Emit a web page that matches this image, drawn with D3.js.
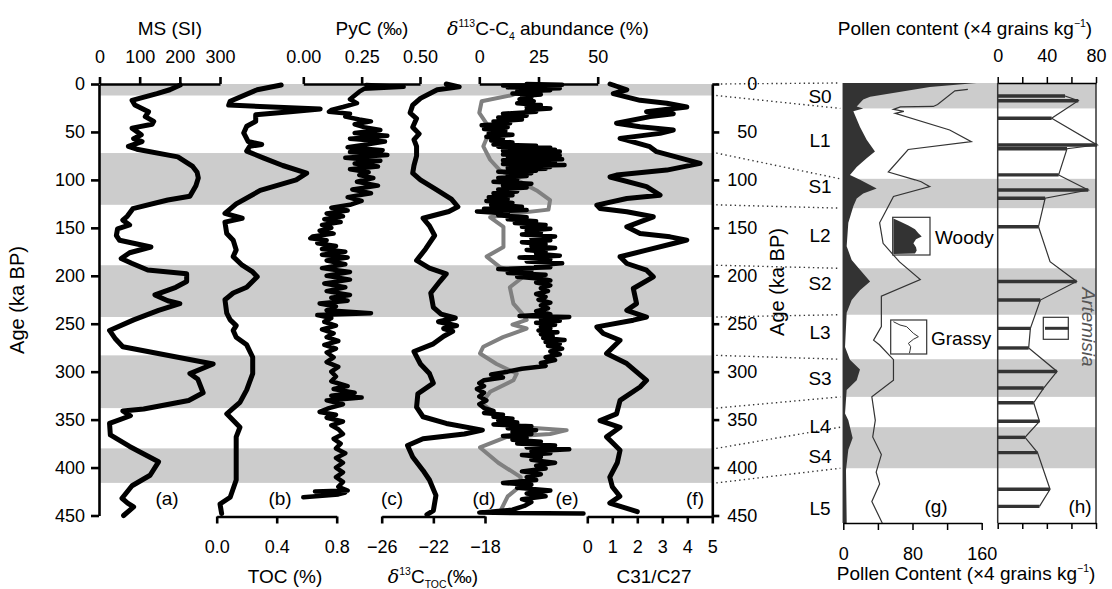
<!DOCTYPE html>
<html>
<head>
<meta charset="utf-8">
<script src="https://cdn.jsdelivr.net/npm/d3@7"></script>
<style>
  body { margin: 0; background: #fff; }
  svg { display: block; font-family: "Liberation Sans", Arial, sans-serif; }
</style>
</head>
<body>
<svg id="chart" width="1112" height="589"></svg>
<script>
// ---------- Data (age in ka BP, value) ----------
const msData = [[1,201],[6,175],[10,143],[17,81],[22,88],[29,122],[34,114],[39,135],[42,131],[46,81],[53,104],[57,85],[60,106],[65,72],[68,93],[76,195],[86,232],[92,243],[98,246],[106,240],[117,225],[121,170],[130,83],[138,69],[142,58],[147,75],[151,45],[158,42],[163,50],[170,128],[176,75],[182,54],[187,80],[194,120],[198,217],[206,217],[212,190],[220,138],[226,170],[229,200],[236,147],[246,85],[257,25],[266,40],[274,58],[292,283],[302,225],[308,245],[322,258],[330,222],[339,110],[341,58],[346,77],[354,25],[366,27],[378,75],[384,102],[394,147],[408,126],[419,81],[432,56],[437,70],[441,85],[450,60]];

const tocData = [[1,0.43],[6,0.27],[18,0.09],[22,0.08],[26,0.69],[29,0.49],[32,0.26],[39,0.26],[44,0.20],[51,0.18],[60,0.21],[63,0.30],[65,0.22],[70,0.20],[77,0.31],[85,0.44],[93,0.60],[100,0.53],[111,0.29],[125,0.13],[135,0.055],[140,0.17],[144,0.055],[156,0.067],[163,0.11],[173,0.13],[180,0.11],[189,0.17],[196,0.24],[201,0.27],[212,0.20],[218,0.11],[225,0.055],[239,0.067],[246,0.09],[252,0.13],[257,0.11],[264,0.13],[272,0.20],[285,0.24],[302,0.24],[319,0.20],[332,0.155],[344,0.067],[358,0.155],[368,0.13],[413,0.13],[431,0.09],[438,0.022],[448,0.033]];

const pycData = [[1,0.27],[3,0.43],[5,0.26],[8,0.24],[12,0.22],[16,0.20],[20,0.23],[24,0.17],[27,0.12],[29,0.11],[31,0.2],[34,0.18],[37,0.24],[39,0.29],[42,0.22],[45,0.26],[48,0.33],[51,0.22],[54,0.36],[57,0.20],[60,0.35],[63,0.27],[66,0.19],[69,0.34],[71,0.20],[74,0.36],[77,0.18],[80,0.33],[83,0.22],[86,0.32],[89,0.2],[92,0.28],[95,0.24],[98,0.30],[102,0.23],[106,0.32],[110,0.21],[114,0.29],[118,0.19],[122,0.25],[126,0.2],[129,0.12],[132,0.19],[135,0.1],[138,0.17],[141,0.09],[144,0.16],[147,0.08],[150,0.12],[153,0.07],[156,0.13],[159,0.04],[161,0.03],[163,0.1],[166,0.06],[169,0.14],[172,0.08],[175,0.18],[178,0.08],[181,0.19],[184,0.1],[188,0.18],[192,0.08],[196,0.2],[200,0.1],[204,0.2],[208,0.09],[212,0.18],[216,0.1],[220,0.2],[223,0.12],[226,0.19],[229,0.07],[232,0.14],[236,0.1],[239,0.29],[241,0.06],[244,0.12],[248,0.09],[252,0.14],[256,0.08],[260,0.13],[264,0.1],[268,0.15],[272,0.09],[276,0.14],[280,0.10],[285,0.13],[290,0.1],[295,0.15],[300,0.12],[305,0.14],[310,0.12],[315,0.19],[318,0.13],[322,0.22],[325,0.12],[327,0.25],[330,0.1],[334,0.17],[338,0.11],[342,0.07],[345,0.14],[348,0.1],[352,0.17],[356,0.12],[360,0.15],[365,0.17],[370,0.13],[375,0.16],[380,0.14],[385,0.18],[390,0.14],[395,0.17],[400,0.14],[405,0.17],[410,0.14],[415,0.17],[420,0.15],[424,0.19],[425,0.05],[426,0.18],[428,0.15],[431,0.0]];

const d13TocData = [[0,-21.0],[3,-20.0],[6,-21.7],[15,-23.0],[22,-23.6],[30,-23.8],[36,-23.3],[45,-23.6],[52,-23.1],[58,-23.5],[65,-23.3],[75,-23.3],[85,-23.5],[93,-23.6],[100,-23.0],[110,-21.8],[120,-20.6],[128,-20.1],[133,-20.8],[140,-22.8],[148,-22.3],[158,-21.9],[172,-22.6],[184,-23.3],[192,-22.3],[198,-21.0],[206,-21.5],[218,-22.2],[233,-22.0],[240,-21.4],[244,-20.3],[248,-21.6],[252,-20.2],[255,-21.2],[258,-20.5],[263,-21.2],[271,-22.0],[279,-23.5],[292,-23.0],[302,-22.3],[312,-22.0],[323,-23.2],[337,-23.3],[347,-22.8],[354,-21.0],[361,-18.2],[365,-19.6],[370,-22.8],[377,-24.0],[389,-23.6],[403,-22.8],[413,-22.3],[429,-21.8],[445,-22.0],[449,-22.5]];

const c4GreyData = [[0,25],[4,21],[11.5,14],[18,1],[30,0],[41,3],[48,4.6],[65,1.7],[79,4.6],[90,8.7],[100,15.8],[111,24.2],[121,29.9],[131,29.2],[136,11.6],[139,4.6],[149,10.2],[170,10.2],[180,3.1],[191,8.7],[196,15.8],[201,18.6],[212,12.9],[229,14.4],[239,17.9],[246,20],[251,14],[255,20],[264,10],[274,1.7],[281,0.3],[292,7.3],[302,15.8],[309,14.4],[321,4.6],[333,1.0],[347,8.7],[358,18.6],[361,36.9],[365,29.9],[368,11.6],[379,0.3],[395,8],[410,17.5],[420,17],[430,12],[445,9]];

const c4BlackData = [[0,20],[0.8,35],[1.6,10],[2.5,30],[3.5,12],[4.5,34],[5.5,18],[6.5,30],[7.5,16],[8.5,24],[10,14],[11,26],[12.5,18],[14,22],[16,17],[18,23],[20,16],[22,26],[24,20],[25.5,30],[27,20],[29,24],[31,10],[33,20],[35,8],[37,18],[39,6],[41,13],[43,1],[45,12],[47,2],[49,11],[51,4],[53,14],[55,3],[57,10],[59,5],[61,14],[63,6],[64.5,24],[65.5,8],[66.5,30],[67.5,12],[68.5,32],[69.5,10],[70.5,34],[71.5,14],[72.5,28],[73.5,10],[74.5,34],[75.5,12],[76.5,30],[77.5,16],[78.5,35],[79.5,10],[80.5,30],[81.5,14],[82.5,32],[83.5,10],[84.5,36],[85.5,16],[86.5,30],[87.5,12],[88.5,28],[89.5,14],[90.5,24],[91.5,8],[93,22],[94.5,12],[96,20],[98,8],[100,16],[102,6],[104,22],[106,10],[108,20],[110,8],[112,16],[114,6],[116,14],[118,4],[120,12],[122,3],[124,14],[126,5],[128,18],[130,2],[131.5,20],[133,-1],[135,12],[137,8],[139,20],[141,12],[143,24],[145,15],[147,28],[149,18],[151,30],[153,20],[155,26],[157,18],[159,32],[161,22],[163,30],[165,18],[167,28],[169,22],[171,32],[173,20],[175,28],[177,24],[179,34],[181,17],[183,30],[185,20],[187,35],[189,24],[191,30],[193,8],[195,22],[197,12],[199,28],[201,16],[203,26],[205,30],[207,24],[210,30],[213,26],[216,29],[219,24],[222,28],[225,25],[228,30],[231,26],[234,29],[237,24],[240,30],[242,17],[243,38],[245,26],[247,34],[249,24],[251,32],[253,26],[255,30],[257,25],[259,33],[261,26],[263,31],[265,27],[267,36],[269,28],[271,34],[273,29],[276,35],[279,30],[282,34],[285,28],[288,32],[291,26],[294,28],[297,18],[300,12],[303,5],[306,10],[309,2],[312,0],[315,2],[318,-1],[322,2],[326,0],[330,3],[334,0],[338,2],[341,6],[343,2],[345,10],[347,6],[349,14],[351,8],[353,16],[355,6],[357,22],[359,12],[361,24],[363,14],[365,22],[367,10],[369,20],[371,14],[373,26],[375,16],[377,32],[379,20],[381,38],[383,22],[385,30],[387,18],[389,26],[392,22],[395,32],[398,24],[401,28],[404,18],[407,26],[410,20],[413,24],[416,10],[418,22],[421,16],[424,30],[427,20],[430,28],[433,18],[436,22],[440,19],[444,14],[447,0],[448,44]];

const c31Data = [[0,0.91],[6,1.58],[10,1.04],[17,2.11],[20,3.18],[24,3.98],[29,2.37],[31,3.44],[34,2.51],[41,1.17],[44.5,2.11],[48,3.44],[51.5,2.91],[56.7,1.31],[58.5,1.58],[65.4,2.5],[70.6,2.77],[82.8,4.51],[89.8,3.18],[95,1.17],[97,0.91],[107,2.37],[116,2.91],[119.4,1.58],[126.3,0.38],[129.8,0.51],[133.2,1.58],[138.5,2.64],[149,1.58],[156,2.11],[159.4,3.31],[162.8,3.98],[166.3,3.44],[173.3,2.37],[180.2,1.31],[187.2,1.58],[194.2,2.37],[201.1,2.64],[213.3,1.84],[229,1.97],[236,1.58],[243,2.37],[246.3,1.84],[253.3,0.38],[260.2,0.64],[267.2,1.31],[281.1,0.77],[291.6,1.58],[309,2.37],[316,2.11],[330,1.31],[344,1.17],[351,0.51],[358,1.31],[368,0.77],[375,1.04],[382,1.31],[395,1.2],[410,0.9],[420,1.0],[430,1.3],[437,0.9],[446,2.0]];

// pollen panels use their own stratigraphic position (0-450)
const woodyData = [[0,154],[4,100],[14,31],[17,23],[24,15.5],[26,23],[29,11.6],[45,19.3],[58,27],[70,36.6],[77,27],[86,15.5],[94,7.7],[99,19.3],[108,38.6],[113,23],[118,15.5],[126,11.6],[143,5.8],[167,3.9],[181,9.7],[191,19.3],[203,31],[212,19.3],[222,9.7],[235,3.9],[270,2],[283,7.7],[293,19.3],[304,15.5],[314,3.9],[338,2],[345,5.8],[363,10.8],[375,5.8],[396,3.1],[447,3.9],[450,3.9]];
const grassyData = [[6.5,144],[8,129],[22,109],[24,104],[24.5,66],[27,58],[29,70],[31,60],[48,123],[60,148],[68,75],[91,52],[99,83],[101,90],[104,96],[106,100],[116,58],[133,48],[143,42],[164,46],[183,65],[201,89],[218,44],[249,44],[263,35],[268,42],[283,58],[304,58],[321,33],[345,37],[362,34],[380,44],[398,38],[410,42],[428,33],[450,45]];
// [position, value, drawn as bar (1) or outline vertex only (0)]
const artemisiaData = [[13.3,54.8,1],[18.1,65.6,1],[36.1,43.9,1],[63.4,80.9,1],[67.2,56.4,1],[94,49.6,1],[109.4,73.7,1],[117.9,38.6,1],[147,33.2,1],[182.7,42.6,0],[203,64.2,1],[222,34.7,1],[251,26.6,1],[271,25.2,1],[295,48.3,1],[312,37.4,1],[327,29.3,1],[346,34,1],[362.4,22.2,1],[378,32.4,1],[415.5,42.6,1],[433,34,1]];

const ageBands = [[0,12],[72,126],[189,243],[283,338],[380,416]];
const posBands = [[0,26],[98,128],[189.5,237],[282.5,321],[352,394]];
const unitNames = ["S0","L1","S1","L2","S2","L3","S3","L4","S4","L5"];
const unitPos = [13,58,105,156,205,255,302,351,382,435];

const ageTicks = [0,50,100,150,200,250,300,350,400,450];
const msTicks = [0,100,200,300];
const tocTicks = [0,0.4,0.8];
const pycTicks = [0,0.25,0.5];
const d13Ticks = [-26,-22,-18];
const c4Ticks = [0,25,50];
const c31Ticks = [0,1,2,3,4,5];
const pollenTicks = [0,40,80,120,160];
const artTicks = [0,20,40,60,80];

// ---------- Scales ----------
const svg = d3.select("#chart");
const yAge = d3.scaleLinear().domain([0,450]).range([84,515.5]);
const yPos = d3.scaleLinear().domain([0,450]).range([83,523]);
const xMS = d3.scaleLinear().domain([0,300]).range([99.5,220]);
const xTOC = d3.scaleLinear().domain([0,0.8]).range([216.7,336.7]);
const xPyC = d3.scaleLinear().domain([0,0.5]).range([303.3,420]);
const xD13 = d3.scaleLinear().domain([-26,-18]).range([381.7,485]);
const xC4 = d3.scaleLinear().domain([0,50]).range([479.3,597.7]);
const xC31 = d3.scaleLinear().domain([0,5]).range([587.3,712.3]);
const xPollen = d3.scaleLinear().domain([0,160]).range([843.3,981.7]);
const xArt = d3.scaleLinear().domain([0,80]).range([997.7,1096]);

const leftX0 = 99, leftX1 = 712.3;
const gX0 = 843.3, hX1 = 1096;

// ---------- Bands ----------
svg.append("g").selectAll("rect").data(ageBands).join("rect")
  .attr("x", leftX0).attr("width", leftX1 - leftX0)
  .attr("y", d => yAge(d[0])).attr("height", d => yAge(d[1]) - yAge(d[0]))
  .attr("fill", "#cccccc");
svg.append("g").selectAll("rect").data(posBands).join("rect")
  .attr("x", gX0).attr("width", hX1 - gX0)
  .attr("y", d => yPos(d[0])).attr("height", d => yPos(d[1]) - yPos(d[0]))
  .attr("fill", "#cccccc");

// ---------- Dotted correlation lines ----------
const leftBounds = ageBands.flat(), rightBounds = posBands.flat();
svg.append("g").selectAll("line").data(leftBounds).join("line")
  .attr("x1", leftX1 + 4).attr("y1", d => yAge(d))
  .attr("x2", gX0 - 3).attr("y2", (d, i) => yPos(rightBounds[i]))
  .attr("stroke", "#333").attr("stroke-width", 1.4)
  .attr("stroke-dasharray", "1.4 3.2");

// ---------- Curves ----------
function curve(data, xs, color, width) {
  svg.append("path").datum(data)
    .attr("d", d3.line().x(d => xs(d[1])).y(d => yAge(d[0])))
    .attr("fill", "none").attr("stroke", color)
    .attr("stroke-width", width)
    .attr("stroke-linejoin", "round").attr("stroke-linecap", "round");
}
curve(msData, xMS, "#000", 5);
curve(tocData, xTOC, "#000", 5);
curve(pycData, xPyC, "#000", 4.5);
curve(d13TocData, xD13, "#000", 5);
curve(c4GreyData, xC4, "#808080", 4);
curve(c4BlackData, xC4, "#000", 4.5);
curve(c31Data, xC31, "#000", 5);

// ---------- Pollen (g) ----------
svg.append("path").datum(woodyData)
  .attr("d", d3.area().y(d => yPos(d[0])).x0(xPollen(0)).x1(d => xPollen(d[1])))
  .attr("fill", "#333");
svg.append("path").datum(grassyData)
  .attr("d", d3.line().x(d => xPollen(d[1])).y(d => yPos(d[0])))
  .attr("fill", "none").attr("stroke", "#333").attr("stroke-width", 1.2);

// ---------- Artemisia (h) ----------
svg.append("g").selectAll("line").data(artemisiaData.filter(d => d[2])).join("line")
  .attr("x1", xArt(0)).attr("x2", d => xArt(d[1]))
  .attr("y1", d => yPos(d[0])).attr("y2", d => yPos(d[0]))
  .attr("stroke", "#333").attr("stroke-width", 3.4);
svg.append("path").datum(artemisiaData)
  .attr("d", d3.line().x(d => xArt(d[1])).y(d => yPos(d[0])))
  .attr("fill", "none").attr("stroke", "#333").attr("stroke-width", 1.2);

// ---------- Axes ----------
function styleAxis(g, w, fs) {
  g.selectAll("path,line").attr("stroke", "#000").attr("stroke-width", w);
  g.selectAll("text").attr("font-size", fs).attr("fill", "#000")
    .attr("font-family", "Liberation Sans, Arial, sans-serif");
}
const AX = 2.6;
svg.append("g").attr("transform", `translate(${leftX0},0)`)
  .call(d3.axisLeft(yAge).tickValues(ageTicks).tickSize(8).tickSizeOuter(0).tickPadding(6))
  .call(g => styleAxis(g, AX, 18));
svg.append("g").attr("transform", `translate(${leftX1},0)`)
  .call(d3.axisRight(yAge).tickValues(ageTicks).tickSize(7).tickSizeOuter(0))
  .call(g => styleAxis(g, AX, 18))
  .call(g => g.selectAll("text").attr("text-anchor", "end").attr("x", 45));

function topAxis(xs, ticks, fmt) {
  svg.append("g").attr("transform", "translate(0,84)")
    .call(d3.axisTop(xs).tickValues(ticks).tickFormat(fmt).tickSize(7).tickSizeOuter(0).tickPadding(14))
    .call(g => styleAxis(g, AX, 18));
}
function bottomAxis(xs, ticks, fmt) {
  svg.append("g").attr("transform", "translate(0,516.5)")
    .call(d3.axisBottom(xs).tickValues(ticks).tickFormat(fmt).tickSize(7).tickSizeOuter(0).tickPadding(17))
    .call(g => styleAxis(g, AX, 18));
}
topAxis(xMS, msTicks, d3.format("d"));
topAxis(xPyC, pycTicks, d3.format(".2f"));
topAxis(xC4, c4Ticks, d3.format("d"));
bottomAxis(xTOC, tocTicks, d3.format(".1f"));
bottomAxis(xD13, d13Ticks, d3.format("d"));
bottomAxis(xC31, c31Ticks, d3.format("d"));

// pollen panel frames and axes
const PW = 1.5;
svg.append("line").attr("x1", gX0).attr("x2", gX0).attr("y1", yPos(0)).attr("y2", yPos(450))
  .attr("stroke", "#333").attr("stroke-width", PW);
svg.append("g").attr("transform", `translate(0,${yPos(450)})`)
  .call(d3.axisBottom(xPollen).tickValues(pollenTicks).tickFormat(d => d % 80 === 0 ? d : "")
    .tickSize(7).tickSizeOuter(0).tickPadding(17))
  .call(g => styleAxis(g, PW, 18));
[xArt(0), xArt(80)].forEach(x => svg.append("line").attr("x1", x).attr("x2", x)
  .attr("y1", yPos(0)).attr("y2", yPos(450)).attr("stroke", "#333").attr("stroke-width", PW));
svg.append("g").attr("transform", `translate(0,${yPos(0)})`)
  .call(d3.axisTop(xArt).tickValues(artTicks).tickFormat(d => d % 40 === 0 ? d : "")
    .tickSize(6).tickSizeOuter(0).tickPadding(15))
  .call(g => styleAxis(g, PW, 18));
svg.append("g").attr("transform", `translate(0,${yPos(450)})`)
  .call(d3.axisBottom(xArt).tickValues(artTicks).tickFormat("").tickSize(6).tickSizeOuter(0))
  .call(g => styleAxis(g, PW, 18));

// ---------- Text ----------
function label(x, y, txt, opts = {}) {
  const t = svg.append("text").attr("x", x).attr("y", y)
    .attr("text-anchor", opts.anchor || "middle")
    .attr("font-size", opts.size || 19).attr("fill", opts.fill || "#000");
  if (opts.rotate) t.attr("transform", `rotate(${opts.rotate},${x},${y})`);
  if (opts.italic) t.attr("font-style", "italic");
  if (opts.dy) t.attr("dy", opts.dy);
  t.text(txt);
  return t;
}
function rich(x, y, parts, size) {
  const t = svg.append("text").attr("x", x).attr("y", y).attr("text-anchor", "middle")
    .attr("font-size", size).attr("fill", "#000");
  parts.forEach(p => {
    const s = t.append("tspan").text(p.t).attr("fill", "#000");
    if (p.sup) s.attr("font-size", size * 0.55).attr("dy", -size * 0.42);
    if (p.sub) s.attr("font-size", size * 0.55).attr("dy", size * 0.25);
    if (p.back) s.attr("dy", p.back);
    if (p.it) s.attr("font-style", "italic").attr("font-family", "DejaVu Serif, serif");
  });
  return t;
}

label(170, 35, "MS (SI)");
label(372, 35, "PyC (‰)");
rich(548, 35, [{t: "δ", it: true}, {t: "113", sup: true}, {t: "C-C", back: 19 * 0.42}, {t: "4", sub: true},
  {t: " abundance (%)", back: -19 * 0.25}], 19);
rich(965, 35, [{t: "Pollen content (×4 grains kg"}, {t: "−1", sup: true}, {t: ")", back: 19 * 0.42}], 19);

label(285, 583, "TOC (%)");
rich(433, 583, [{t: "δ", it: true}, {t: "13", sup: true}, {t: "C", back: 19 * 0.42}, {t: "TOC", sub: true},
  {t: "(‰)", back: -19 * 0.25}], 19);
label(654, 583, "C31/C27");
rich(966, 580, [{t: "Pollen Content (×4 grains kg"}, {t: "−1", sup: true}, {t: ")", back: 19 * 0.42}], 19);

label(24, 300, "Age (ka BP)", {rotate: -90, size: 20});
label(784, 282, "Age (ka BP)", {rotate: -90, size: 20});

const panelLabels = [["(a)",167,505],["(b)",280,505],["(c)",392,505],["(d)",484,505],["(e)",567,505],["(f)",695,505],["(g)",936,513],["(h)",1080,513]];
panelLabels.forEach(p => label(p[1], p[2], p[0]));

unitNames.forEach((n, i) => label(820, yPos(unitPos[i]), n, {dy: "0.36em"}));

// legend: woody / grassy / Artemisia
const woodyIcon = [[0.7,1.3],[2.3,2],[7.3,4.3],[15.7,8.3],[22.3,12],[25.7,16],[29,19.3],[23.3,22],[20.7,26],[23.3,30],[24,33.3],[22.3,36.3],[0.7,36.7]];
const grassyIcon = [[2.7,1.7],[9.3,5],[16,6.7],[22.7,13.3],[27.7,16.7],[22.7,19.3],[17.7,23.3],[20,26.7],[19.3,30.7],[18.7,33.3]];
const wg = svg.append("g").attr("transform", "translate(892.7,217.3)");
wg.append("rect").attr("width", 37.3).attr("height", 37.7).attr("fill", "#fff").attr("stroke", "#333").attr("stroke-width", 1.2);
wg.append("path").attr("d", d3.line()(woodyIcon) + "Z").attr("fill", "#333");
label(935, 237, "Woody", {anchor: "start", dy: "0.36em"});
const gg = svg.append("g").attr("transform", "translate(890.7,320)");
gg.append("rect").attr("width", 36).attr("height", 34).attr("fill", "#fff").attr("stroke", "#333").attr("stroke-width", 1.2);
gg.append("path").attr("d", d3.line()(grassyIcon)).attr("fill", "none").attr("stroke", "#333").attr("stroke-width", 1);
label(931, 338, "Grassy", {anchor: "start", dy: "0.36em"});
svg.append("rect").attr("x", 1043.3).attr("y", 317.3).attr("width", 25).attr("height", 22)
  .attr("fill", "#fff").attr("stroke", "#333").attr("stroke-width", 1.2);
svg.append("line").attr("x1", 1045).attr("x2", 1069).attr("y1", 328.3).attr("y2", 328.3)
  .attr("stroke", "#333").attr("stroke-width", 3);
label(1082, 327, "Artemisia", {rotate: 90, italic: true, fill: "#555"});
</script>
</body>
</html>
